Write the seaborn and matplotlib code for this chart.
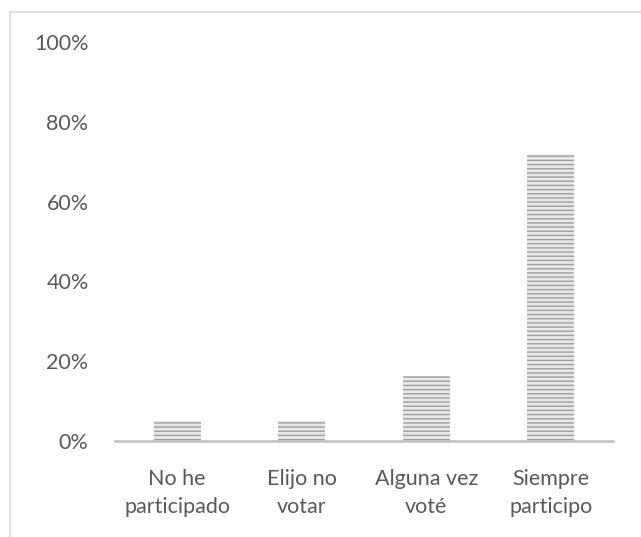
import matplotlib
matplotlib.use("Agg")
import matplotlib.pyplot as plt
import seaborn as sns
import pandas as pd
from matplotlib.patches import Rectangle
from matplotlib.ticker import PercentFormatter

categories = ["No he\nparticipado", "Elijo no\nvotar", "Alguna vez\nvoté", "Siempre\nparticipo"]
shares = [0.05, 0.05, 0.163, 0.72]
y_ticks = [0, 0.2, 0.4, 0.6, 0.8, 1.0]

sns.set_theme(style="white")
plt.rcParams["font.family"] = ["Lato", "DejaVu Sans"]
plt.rcParams["hatch.linewidth"] = 1.0

df = pd.DataFrame({"categoria": categories, "porcentaje": shares})

fig = plt.figure(figsize=(6.41, 5.37), dpi=100)
ax = fig.add_axes([115 / 641, 1 - 441 / 537, 498 / 641, 399 / 537])

sns.barplot(data=df, x="categoria", y="porcentaje", ax=ax, width=0.38,
            color="#e8e8e8", edgecolor="#a0a0a0", linewidth=0, saturation=1)
for bar in ax.patches:
    bar.set_hatch("----")

ax.set_ylim(0, 1.0)
ax.set_yticks(y_ticks)
ax.yaxis.set_major_formatter(PercentFormatter(1.0, decimals=0))
ax.set_xlabel("")
ax.set_ylabel("")
ax.tick_params(axis="both", length=0, labelsize=15.5, colors="#595959")
ax.tick_params(axis="y", pad=19)
ax.tick_params(axis="x", pad=20)
for lbl in ax.get_xticklabels():
    lbl.set_linespacing(1.5)

for side in ["top", "right", "left"]:
    ax.spines[side].set_visible(False)
ax.spines["bottom"].set_color("#c0c0c0")
ax.spines["bottom"].set_linewidth(1.8)

# chart-area border
fig.patches.append(Rectangle((10 / 641, -0.1), 1.2, 1 - 12 / 537 + 0.1,
                             transform=fig.transFigure, fill=False,
                             edgecolor="#d9d9d9", linewidth=1.2))

fig.savefig("out.png", dpi=100, facecolor="white")
